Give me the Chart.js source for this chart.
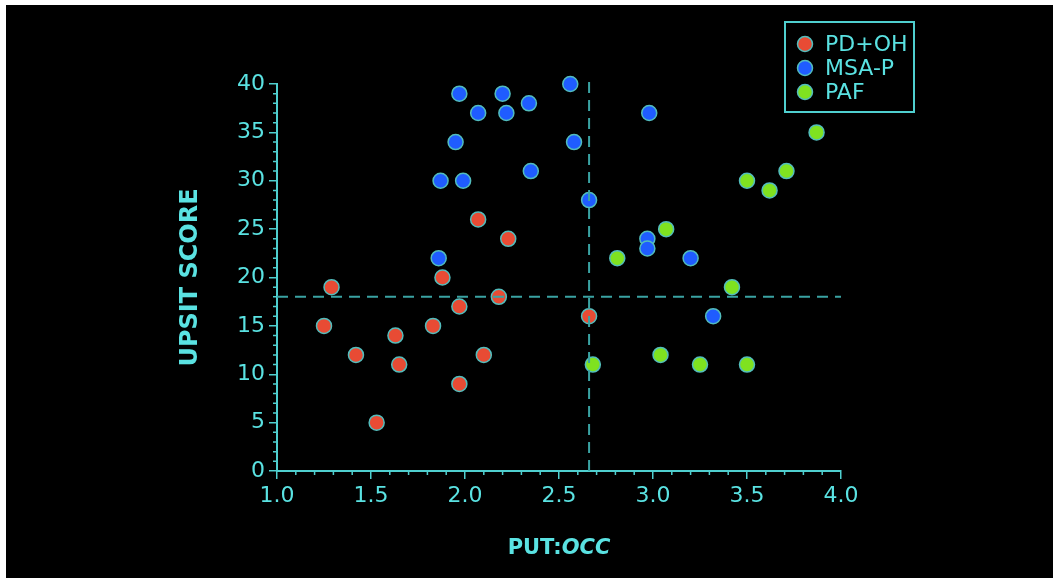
<!DOCTYPE html>
<html>
<head>
<meta charset="utf-8">
<script src="https://cdn.jsdelivr.net/npm/chart.js@4"></script>
<style>
  html, body { margin: 0; padding: 0; background: #fff; }
  #wrap { position: absolute; left: 6px; top: 5px; width: 1047px; height: 573px; background: #000; }
</style>
</head>
<body>
<div id="wrap"><canvas id="scatter" width="1047" height="573"></canvas></div>
<script>
const seriesNames = ["PD+OH", "MSA-P", "PAF"];

const pdohX = [1.25, 1.29, 1.42, 1.53, 1.63, 1.65, 1.83, 1.88, 1.97, 1.97, 2.07, 2.10, 2.18, 2.23, 2.66];
const pdohY = [15, 19, 12, 5, 14, 11, 15, 20, 17, 9, 26, 12, 18, 24, 16];

const msaX = [1.86, 1.87, 1.95, 1.97, 1.99, 2.07, 2.20, 2.22, 2.34, 2.35, 2.56, 2.58, 2.66, 2.97, 2.97, 2.98, 3.20, 3.32];
const msaY = [22, 30, 34, 39, 30, 37, 39, 37, 38, 31, 40, 34, 28, 24, 23, 37, 22, 16];

const pafX = [2.68, 2.81, 3.04, 3.07, 3.25, 3.42, 3.50, 3.50, 3.62, 3.71, 3.87];
const pafY = [11, 22, 12, 25, 11, 19, 30, 11, 29, 31, 35];

// cut-off lines
const cutX = 2.66;
const cutY = 18;

const xTicks = [1.0, 1.5, 2.0, 2.5, 3.0, 3.5, 4.0];
const yTicks = [0, 5, 10, 15, 20, 25, 30, 35, 40];

const CYAN = "#5ae2e2";
const AXIS = "#4fcfcf";
const DASH = "#3aa3a3";
const FONT = "'DejaVu Sans', sans-serif";

function pts(xs, ys) {
  return xs.map((x, i) => ({ x: x, y: ys[i] }));
}

function pointSet(label, xs, ys, color) {
  return {
    label: label,
    data: pts(xs, ys),
    backgroundColor: color,
    borderColor: "#52bdbd",
    borderWidth: 1.5,
    pointRadius: 7.5,
    showLine: false,
    clip: false,
    order: 1,
  };
}

function dashSet(data) {
  return {
    label: "",
    data: data,
    showLine: true,
    borderColor: DASH,
    borderWidth: 2,
    borderDash: [11, 7],
    pointRadius: 0,
    clip: false,
    order: 0,
  };
}

// minor ticks, titles and the boxed legend
const decor = {
  id: "decor",
  afterDraw(chart) {
    const ctx = chart.ctx;
    const xs = chart.scales.x;
    const ys = chart.scales.y;
    const area = chart.chartArea;
    ctx.save();
    ctx.strokeStyle = AXIS;
    ctx.lineWidth = 1.5;
    ctx.beginPath();
    for (let v = 0; v <= 40; v++) {
      if (v % 5 === 0) continue;
      const py = ys.getPixelForValue(v);
      ctx.moveTo(area.left, py);
      ctx.lineTo(area.left - 4, py);
    }
    for (let i = 10; i <= 40; i++) {
      if (i % 5 === 0) continue;
      const px = xs.getPixelForValue(i / 10);
      ctx.moveTo(px, area.bottom);
      ctx.lineTo(px, area.bottom + 4);
    }
    ctx.stroke();

    // axis titles
    ctx.fillStyle = CYAN;
    ctx.textBaseline = "middle";
    ctx.textAlign = "center";
    ctx.save();
    ctx.translate(185, (area.top + area.bottom) / 2);
    ctx.rotate(-Math.PI / 2);
    ctx.font = "bold 24px " + FONT;
    ctx.fillText("UPSIT SCORE", 0, 0);
    ctx.restore();

    ctx.font = "bold 21px " + FONT;
    const a = "PUT:";
    ctx.textAlign = "left";
    const wa = ctx.measureText(a).width;
    ctx.font = "italic bold 21px " + FONT;
    const wb = ctx.measureText("OCC").width;
    const sx = (area.left + area.right) / 2 - (wa + wb) / 2;
    ctx.font = "bold 21px " + FONT;
    ctx.fillText(a, sx, 544);
    ctx.font = "italic bold 21px " + FONT;
    ctx.fillText("OCC", sx + wa, 544);

    // legend
    const lx = 779, ly = 17, lw = 129, lh = 90;
    ctx.strokeStyle = AXIS;
    ctx.lineWidth = 2;
    ctx.strokeRect(lx, ly, lw, lh);
    ctx.font = "22px " + FONT;
    const sets = chart.data.datasets.filter(d => d.label);
    sets.forEach((d, i) => {
      const cy = ly + 22 + i * 24;
      ctx.beginPath();
      ctx.arc(lx + 20, cy, 7.5, 0, Math.PI * 2);
      ctx.fillStyle = d.backgroundColor;
      ctx.fill();
      ctx.lineWidth = 1.5;
      ctx.strokeStyle = d.borderColor;
      ctx.stroke();
      ctx.fillStyle = CYAN;
      ctx.fillText(d.label, lx + 40, cy + 1);
    });
    ctx.restore();
  },
};

new Chart(document.getElementById("scatter"), {
  type: "scatter",
  data: {
    datasets: [
      dashSet([{ x: cutX, y: 0 }, { x: cutX, y: 40.6 }]),
      dashSet([{ x: 1.0, y: cutY }, { x: 4.0, y: cutY }]),
      pointSet(seriesNames[0], pdohX, pdohY, "#e84b34"),
      pointSet(seriesNames[1], msaX, msaY, "#1f5cff"),
      pointSet(seriesNames[2], pafX, pafY, "#7fe220"),
    ],
  },
  options: {
    responsive: false,
    animation: false,
    layout: { padding: { top: 79, right: 212, left: 0, bottom: 0 } },
    plugins: { legend: { display: false }, tooltip: { enabled: false } },
    scales: {
      x: {
        type: "linear",
        min: 1,
        max: 4,
        afterBuildTicks: (s) => { s.ticks = xTicks.map(v => ({ value: v })); },
        afterFit: (s) => { s.height = 107; },
        ticks: {
          color: CYAN,
          font: { family: FONT, size: 22 },
          padding: 4,
          maxRotation: 0,
          callback: (v) => Number(v).toFixed(1),
        },
        grid: { drawOnChartArea: false, drawTicks: true, tickLength: 8, color: AXIS, lineWidth: 1.5 },
        border: { color: AXIS, width: 2 },
      },
      y: {
        type: "linear",
        min: 0,
        max: 40,
        afterBuildTicks: (s) => { s.ticks = yTicks.map(v => ({ value: v })); },
        afterFit: (s) => { s.width = 271; },
        ticks: {
          color: CYAN,
          font: { family: FONT, size: 22 },
          padding: 4,
        },
        grid: { drawOnChartArea: false, drawTicks: true, tickLength: 8, color: AXIS, lineWidth: 1.5 },
        border: { color: AXIS, width: 2 },
      },
    },
  },
  plugins: [decor],
});
</script>
</body>
</html>
